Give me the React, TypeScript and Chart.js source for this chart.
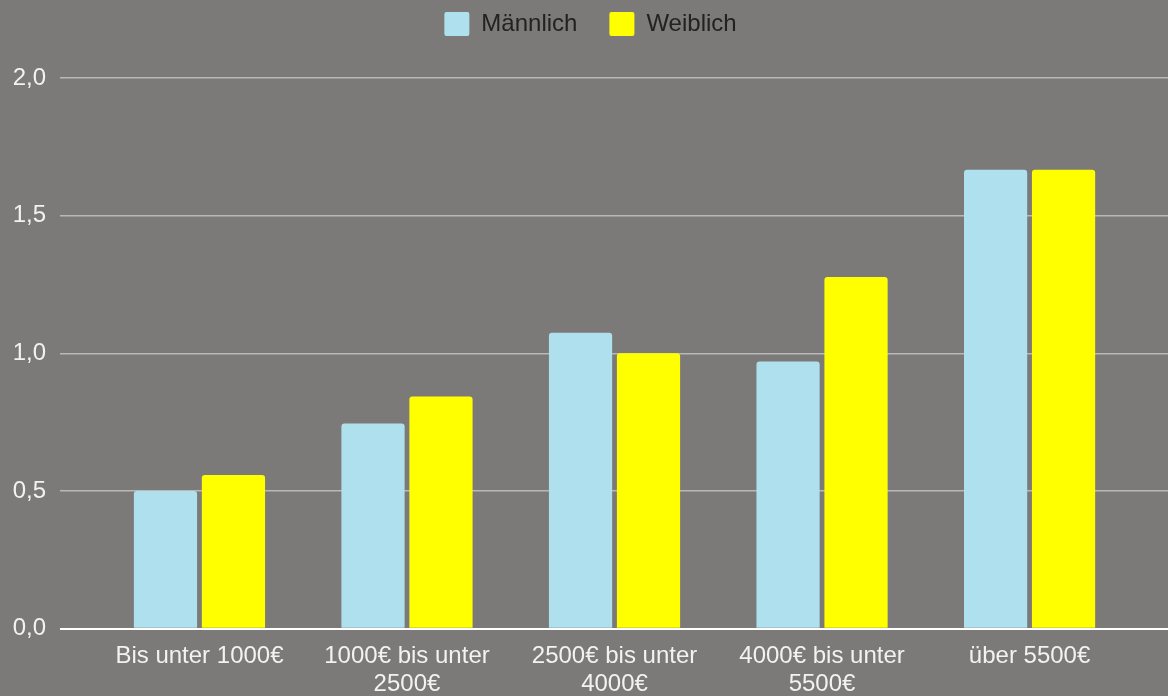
import { useEffect, useRef } from "react";
import { Chart, registerables } from "chart.js";

Chart.register(...registerables);

// Income brackets (x axis), one entry per group; multi-line labels as arrays
const categories: string[][] = [
  ["Bis unter 1000€"],
  ["1000€ bis unter", "2500€"],
  ["2500€ bis unter", "4000€"],
  ["4000€ bis unter", "5500€"],
  ["über 5500€"],
];

const seriesNames = ["Männlich", "Weiblich"];
const maleValues = [0.5, 0.745, 1.075, 0.97, 1.667];
const femaleValues = [0.558, 0.843, 1.0, 1.277, 1.667];

const yTicks = [0, 0.5, 1.0, 1.5, 2.0];

const BG = "#7c7a78";
const FONT = "'Liberation Sans', Arial, sans-serif";

export default function App() {
  const canvasRef = useRef<HTMLCanvasElement | null>(null);

  useEffect(() => {
    if (!canvasRef.current) return;
    const toPoints = (vals: number[]) => vals.map((v, i) => ({ x: i, y: v }));

    const chart = new Chart(canvasRef.current, {
      type: "bar",
      data: {
        datasets: [
          {
            label: seriesNames[0],
            data: toPoints(maleValues),
            backgroundColor: "#aee0ee",
            borderWidth: 0,
            borderRadius: 3,
          },
          {
            label: seriesNames[1],
            data: toPoints(femaleValues),
            backgroundColor: "#ffff00",
            borderWidth: 0,
            borderRadius: 3,
          },
        ],
      },
      options: {
        animation: false,
        responsive: false,
        datasets: {
          bar: {
            categoryPercentage: 0.655,
            barPercentage: 0.93,
          },
        },
        layout: {
          padding: { top: -20, left: 13, right: 0, bottom: -15.7 },
        },
        plugins: {
          tooltip: { enabled: false },
          legend: {
            display: true,
            position: "top",
            labels: {
              color: "#222222",
              font: { family: FONT, size: 24 },
              boxWidth: 25,
              boxHeight: 24,
              padding: 32,
              useBorderRadius: true,
              borderRadius: 2,
            },
          },
        },
        scales: {
          x: {
            type: "linear",
            bounds: "data",
            offset: false,
            min: -0.672,
            max: 4.667,
            afterBuildTicks: (scale: any) => {
              scale.ticks = categories.map((_, i) => ({ value: i }));
            },
            grid: { display: false, drawTicks: false },
            border: { display: false },
            ticks: {
              autoSkip: false,
              maxRotation: 0,
              minRotation: 0,
              padding: 13.5,
              color: "#f2f2f2",
              font: { family: FONT, size: 24, lineHeight: 1.167 },
              callback: (value: any) => categories[Number(value)] ?? "",
            },
          },
          y: {
            type: "linear",
            min: 0,
            max: 2.1162,
            afterBuildTicks: (scale: any) => {
              scale.ticks = yTicks.map((v) => ({ value: v }));
            },
            afterFit: (scale: any) => {
              scale.width = 47;
            },
            grid: {
              drawTicks: false,
              color: (ctx: any) => (ctx.tick && ctx.tick.value === 0 ? "#ffffff" : "#bab8b6"),
              lineWidth: (ctx: any) => (ctx.tick && ctx.tick.value === 0 ? 2 : 1.5),
            },
            border: { display: false },
            ticks: {
              padding: 14,
              color: "#f2f2f2",
              font: { family: FONT, size: 24 },
              callback: (value: any) => Number(value).toFixed(1).replace(".", ","),
            },
          },
        },
      },
    });

    return () => chart.destroy();
  }, []);

  return (
    <div
      style={{
        position: "absolute",
        left: 0,
        top: 0,
        width: 1168,
        height: 696,
        background: BG,
      }}
    >
      <canvas ref={canvasRef} width={1168} height={696} />
    </div>
  );
}
